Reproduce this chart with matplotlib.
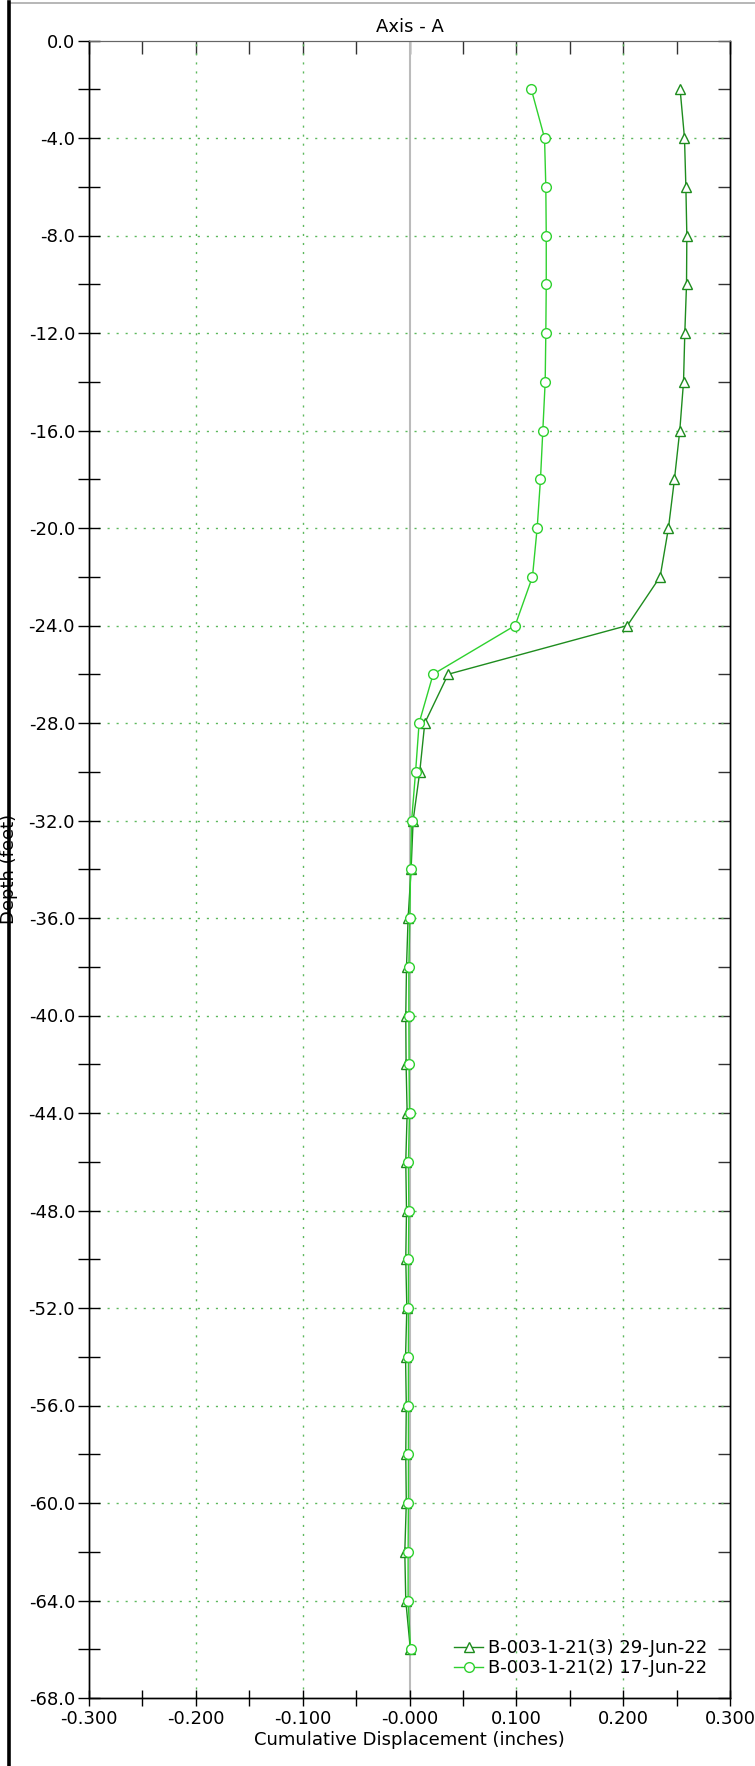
import matplotlib
matplotlib.use('Agg')
import matplotlib.pyplot as plt
from matplotlib.lines import Line2D
from matplotlib.ticker import MultipleLocator, FormatStrFormatter, NullFormatter

plt.rcParams['font.family'] = ['DejaVu Sans']

# depth of each reading (feet)
depth = [-2, -4, -6, -8, -10, -12, -14, -16, -18, -20, -22, -24, -26, -28, -30, -32, -34,
         -36, -38, -40, -42, -44, -46, -48, -50, -52, -54, -56, -58, -60, -62, -64, -66]

# B-003-1-21(3) 29-Jun-22
disp_jun29 = [0.2533, 0.2574, 0.2587, 0.2596, 0.2593, 0.2577, 0.2565, 0.2530, 0.2480, 0.2424,
              0.2346, 0.2040, 0.0362, 0.0143, 0.0096, 0.0034, 0.0015, -0.0013, -0.0028, -0.0035,
              -0.0032, -0.0022, -0.0035, -0.0028, -0.0035, -0.0025, -0.0037, -0.0030, -0.0035,
              -0.0030, -0.0044, -0.0035, 0.0008]

# B-003-1-21(2) 17-Jun-22
disp_jun17 = [0.1140, 0.1264, 0.1276, 0.1280, 0.1280, 0.1276, 0.1270, 0.1248, 0.1226, 0.1195,
              0.1151, 0.0989, 0.0221, 0.0090, 0.0057, 0.0020, 0.0010, 0.0003, -0.0006, -0.0006,
              -0.0004, 0.0000, -0.0010, -0.0006, -0.0010, -0.0010, -0.0010, -0.0010, -0.0010,
              -0.0010, -0.0013, -0.0013, 0.0010]

labels = ['B-003-1-21(3) 29-Jun-22', 'B-003-1-21(2) 17-Jun-22']
xticklabels = ['-0.300', '-0.200', '-0.100', '-0.000', '0.100', '0.200', '0.300']

fig = plt.figure(figsize=(7.55, 17.66), dpi=100)
rect = [89 / 755, 1 - 1698 / 1766, 641 / 755, 1657.5 / 1766]

# frame axes carrying the inward-only top and right ticks
frame = fig.add_axes(rect, zorder=0)
frame.set_xlim(-0.3, 0.3)
frame.set_ylim(-68, 0)
frame.xaxis.set_major_locator(MultipleLocator(0.05))
frame.yaxis.set_major_locator(MultipleLocator(2))
frame.xaxis.set_major_formatter(NullFormatter())
frame.yaxis.set_major_formatter(NullFormatter())
frame.tick_params(direction='in', length=9, width=1, top=True, right=True,
                  bottom=False, left=False, color='#333333')

ax = fig.add_axes(rect, zorder=1)
ax.patch.set_alpha(0)

fs = 13
grid_kw = dict(color='#5cb85c', lw=1.0, ls=(0, (1.5, 5)), zorder=1)
for x in [-0.2, -0.1, 0.1, 0.2]:
    ax.axvline(x, **grid_kw)
for y in range(-64, 0, 4):
    ax.axhline(y, **grid_kw)
ax.axvline(0, color='#bbbbbb', lw=1.5, zorder=1)

ax.plot(disp_jun29, depth, color='#1e8c1e', lw=1.0, marker='^', ms=7,
        mfc='white', mec='#1e8c1e', mew=1.0, label=labels[0], zorder=3)
ax.plot(disp_jun17, depth, color='#2ed12e', lw=1.0, marker='o', ms=7,
        mfc='white', mec='#2ed12e', mew=1.0, label=labels[1], zorder=4)

ax.set_xlim(-0.3, 0.3)
ax.set_ylim(-68, 0)
ax.xaxis.set_minor_locator(MultipleLocator(0.05))
ax.yaxis.set_major_locator(MultipleLocator(4))
ax.yaxis.set_minor_locator(MultipleLocator(2))
ax.yaxis.set_major_formatter(FormatStrFormatter('%.1f'))
ax.set_xticks([-0.3, -0.2, -0.1, 0.0, 0.1, 0.2, 0.3])
ax.set_xticklabels(xticklabels)

ax.tick_params(axis='y', which='both', direction='inout', length=16, width=1, labelsize=fs, pad=2)
ax.tick_params(axis='x', which='both', direction='inout', length=12, width=1, labelsize=fs, pad=3)

for a in (ax, frame):
    for s in ['left', 'bottom', 'right']:
        a.spines[s].set_color('black')
        a.spines[s].set_linewidth(1.0)
    a.spines['top'].set_color('#666666')

ax.set_title('Axis - A', fontsize=fs, pad=6)
ax.set_xlabel('Cumulative Displacement (inches)', fontsize=fs, labelpad=2)

ax.legend(loc='lower right', bbox_to_anchor=(0.985, 0.005), frameon=False,
          fontsize=fs, handlelength=1.6, handletextpad=0.3, labelspacing=0.1,
          borderaxespad=0.3)

# clipped y label and left border of the screenshot
fig.text(9 / 755, 1 - 869 / 1766, 'Depth (feet)', rotation=90, ha='center', va='center', fontsize=fs)
fig.add_artist(Line2D([8.5 / 755, 8.5 / 755], [0, 1 - 2 / 1766], color='black', lw=2.6, zorder=10))
fig.add_artist(Line2D([8.5 / 755, 1], [1 - 3 / 1766, 1 - 3 / 1766], color='#aaaaaa', lw=1.2, zorder=9))

fig.savefig('out.png', dpi=100)
